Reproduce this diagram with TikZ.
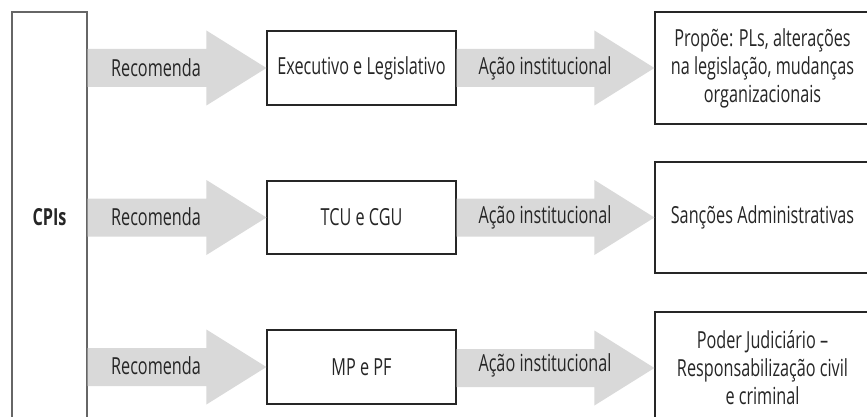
\documentclass[tikz,border=0pt]{standalone}
\usepackage{fontspec}
\setmainfont{Open Sans}[FakeStretch=0.69]
\usetikzlibrary{calc}
\newcommand\fatarr[2]{%
  \fill[fat] let \p1=(#1.east |- #2.west), \p2=(#2.west) in
    (\x1,\y2+19pt) -- (\x2-60pt,\y2+19pt) -- (\x2-60pt,\y2+37.5pt) -- (\x2,\y2)
    -- (\x2-60pt,\y2-37.5pt) -- (\x2-60pt,\y2-19pt) -- (\x1,\y2-19pt) -- cycle;}
\begin{document}
\begin{tikzpicture}[x=1pt,y=-1pt,
  box/.style={draw=black!85, line width=1.2pt, fill=white, inner sep=0pt, align=center,
    font=\fontsize{23.5}{28}\selectfont, text=black!85},
  fat/.style={fill=black!15},
  lbl/.style={font=\fontsize{23.5}{28}\selectfont, text=black!85, inner sep=0pt},
]
\useasboundingbox (0,0) rectangle (867,417);
\clip (0,0) rectangle (867,417);
% boxes
\node[box, draw=black!60, minimum width=75, minimum height=410] (cpi) at (49.5,217) {\bfseries CPIs};
\node[box, minimum width=189, minimum height=74] (m1) at (361.5,68) {Executivo e Legislativo};
\node[box, minimum width=189, minimum height=73] (m2) at (361.5,217.5) {TCU e CGU};
\node[box, minimum width=189, minimum height=74] (m3) at (361.5,367) {MP e PF};
\node[box, minimum width=215, minimum height=112] (r1) at (762.5,68) {Propõe: PLs, alterações\\na legislação, mudanças\\organizacionais};
\node[box, minimum width=215, minimum height=111] (r2) at (762.5,217.5) {Sanções Administrativas};
\node[box, minimum width=215, minimum height=112] (r3) at (762.5,368) {Poder Judiciário --\\Responsabilização civil\\e criminal};
% arrows
\fatarr{cpi}{m1}
\fatarr{cpi}{m2}
\fatarr{cpi}{m3}
\fatarr{m1}{r1}
\fatarr{m2}{r2}
\fatarr{m3}{r3}
% labels
\node[lbl] (a1) at (156,68) {Recomenda};
\node[lbl] (a2) at (156,217) {Recomenda};
\node[lbl] (a3) at (156,365.5) {Recomenda};
\node[lbl] (b1) at (545,68) {Ação institucional};
\node[lbl] (b2) at (545,217) {Ação institucional};
\node[lbl] (b3) at (545,365.5) {Ação institucional};
\end{tikzpicture}
\end{document}
